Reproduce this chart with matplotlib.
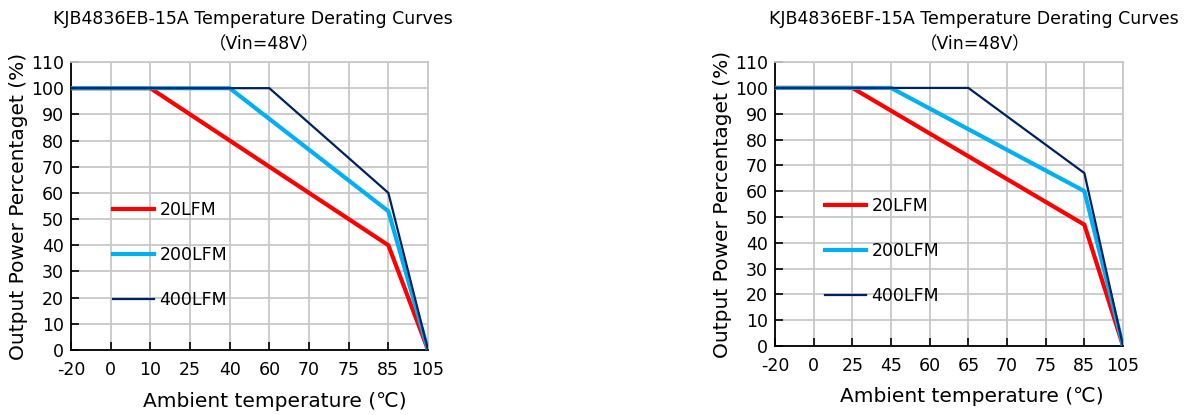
import matplotlib
matplotlib.use("Agg")
import matplotlib.pyplot as plt

plt.rcParams['font.family'] = ['DejaVu Sans', 'Noto Sans CJK SC']

# Derating data (x is tick index, the axis is categorical-spaced)
left_ticks = ["-20", "0", "10", "25", "40", "60", "70", "75", "85", "105"]
left_20_x = [0, 2, 8, 9]
left_20_y = [100, 100, 40, 0]
left_200_x = [0, 4, 8, 9]
left_200_y = [100, 100, 53, 0]
left_400_x = [0, 5, 8, 9]
left_400_y = [100, 100, 60, 0]

right_ticks = ["-20", "0", "25", "45", "60", "65", "70", "75", "85", "105"]
right_20_x = [0, 2, 8, 9]
right_20_y = [100, 100, 47, 0]
right_200_x = [0, 3, 8, 9]
right_200_y = [100, 100, 60, 0]
right_400_x = [0, 5, 8, 9]
right_400_y = [100, 100, 67, 0]

series_names = ["20LFM", "200LFM", "400LFM"]
colors = ["#FF0000", "#00B0F0", "#002060"]
widths = [3.0, 3.0, 1.6]
grid_col = "#C8C8C8"

fig = plt.figure(figsize=(12.02, 4.15), dpi=100)


def draw(ax, ticks, xs, ys, title1, title_x, sub_x, leg_pos, xlab_pos):
    for x, y, name, c, w in zip(xs, ys, series_names, colors, widths):
        ax.plot(x, y, color=c, lw=w, label=name, solid_joinstyle="miter", zorder=3)
    ax.set_xlim(0, len(ticks) - 1)
    ax.set_ylim(0, 110)
    ax.set_xticks(range(len(ticks)))
    ax.set_xticklabels(ticks)
    ax.set_yticks(range(0, 111, 10))
    ax.grid(True, color=grid_col, lw=1.3)
    ax.set_axisbelow(True)
    for s in ["top", "right"]:
        ax.spines[s].set_color(grid_col)
        ax.spines[s].set_linewidth(1.3)
    for s in ["left", "bottom"]:
        ax.spines[s].set_color("black")
        ax.spines[s].set_linewidth(1.3)
    ax.tick_params(direction="in", length=6, width=1.2, labelsize=12.5)
    ax.tick_params(axis="x", pad=8)
    ax.tick_params(axis="y", pad=5)
    ax.set_xlabel("Ambient temperature (℃)", fontsize=14.5)
    ax.xaxis.set_label_coords(xlab_pos[0], xlab_pos[1])
    ax.set_ylabel("Output Power Percentaget (%)", fontsize=14.5, labelpad=2)
    ax.legend(loc="upper left", bbox_to_anchor=leg_pos, frameon=False,
              fontsize=12.5, handlelength=2.4, handletextpad=0.3,
              labelspacing=1.55, borderaxespad=0)
    fig.text(title_x, 0.975, title1, ha="center", va="top", fontsize=12.5)
    fig.text(sub_x, 0.915, "（Vin=48V）", ha="center", va="top", fontsize=12.5)


ax1 = fig.add_axes([0.0591, 0.1566, 0.297, 0.694])
draw(ax1, left_ticks, [left_20_x, left_200_x, left_400_x],
     [left_20_y, left_200_y, left_400_y],
     "KJB4836EB-15A Temperature Derating Curves", 0.210, 0.220,
     (0.097, 0.542), (0.57, -0.145))

ax2 = fig.add_axes([0.6448, 0.1663, 0.2895, 0.684])
draw(ax2, right_ticks, [right_20_x, right_200_x, right_400_x],
     [right_20_y, right_200_y, right_400_y],
     "KJB4836EBF-15A Temperature Derating Curves", 0.810, 0.811,
     (0.123, 0.548), (0.566, -0.145))

fig.savefig("out.png", dpi=100)
